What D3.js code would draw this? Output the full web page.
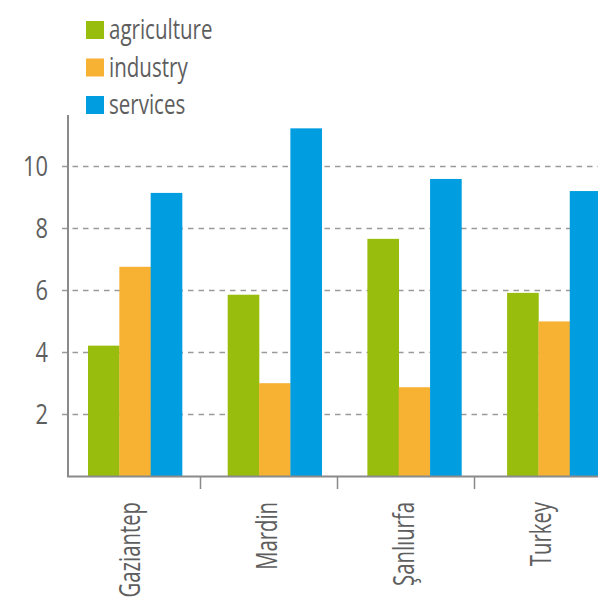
<!DOCTYPE html>
<html>
<head>
<meta charset="utf-8">
<script src="https://cdn.jsdelivr.net/npm/d3@7"></script>
<style>
  html, body { margin: 0; padding: 0; background: #fff; }
  svg { display: block; }
  text { font-family: "Open Sans", sans-serif; fill: #5e5e5e; }
</style>
</head>
<body>
<svg id="chart" width="598" height="601"></svg>
<script>
const categories = ["Gaziantep", "Mardin", "Şanlıurfa", "Turkey"];
const seriesNames = ["agriculture", "industry", "services"];
const agriculture = [4.2, 5.84, 7.64, 5.9];
const industry = [6.74, 2.99, 2.86, 4.98];
const services = [9.12, 11.2, 9.57, 9.18];
const yTicks = [2, 4, 6, 8, 10];
const colors = ["#99bd0d", "#f7b234", "#009ee0"];

const seriesValues = [agriculture, industry, services];
const rows = categories.map((c, i) => ({
  category: c,
  values: seriesNames.map((s, j) => ({ key: s, value: seriesValues[j][i] }))
}));

const svg = d3.select("#chart");
const W = 598, H = 601;

const y = d3.scaleLinear().domain([0, 11.63]).range([476, 115]);
// group positions for bars
const xGroup = d3.scaleBand().domain(categories)
  .range([88, 601.1]).paddingInner(0.327).paddingOuter(0);
const xSeries = d3.scaleBand().domain(seriesNames).range([0, xGroup.bandwidth()]);
// axis bands (tick boundaries / labels)
const xAxisScale = d3.scaleBand().domain(categories).range([63, 611]);
const color = d3.scaleOrdinal().domain(seriesNames).range(colors);

function compress(sel, factor) {
  sel.each(function() {
    const len = this.getComputedTextLength();
    d3.select(this).attr("textLength", len * factor).attr("lengthAdjust", "spacingAndGlyphs");
  });
}

// gridlines
svg.append("g").selectAll("line").data(yTicks).join("line")
  .attr("x1", 62).attr("x2", W)
  .attr("y1", d => Math.round(y(d)) + 0.5).attr("y2", d => Math.round(y(d)) + 0.5)
  .attr("stroke", "#9a9a9a").attr("stroke-width", 1.5)
  .attr("stroke-dasharray", "5.5,5");

// bars
const groups = svg.append("g").selectAll("g").data(rows).join("g")
  .attr("transform", d => `translate(${xGroup(d.category)},0)`);
groups.selectAll("rect").data(d => d.values).join("rect")
  .attr("x", d => xSeries(d.key))
  .attr("width", xSeries.bandwidth() + 0.3)
  .attr("y", d => y(d.value))
  .attr("height", d => y(0) - y(d.value))
  .attr("fill", d => color(d.key));

// y axis line
svg.append("line").attr("x1", 68).attr("x2", 68).attr("y1", 115).attr("y2", y(0) + 1)
  .attr("stroke", "#8a8a8a").attr("stroke-width", 2);
// x axis line
svg.append("line").attr("x1", 67).attr("x2", W).attr("y1", y(0) + 0.5).attr("y2", y(0) + 0.5)
  .attr("stroke", "#8a8a8a").attr("stroke-width", 2);

// y tick labels
const yl = svg.append("g").selectAll("text").data(yTicks).join("text")
  .attr("x", 48).attr("y", d => y(d)).attr("dy", "0.36em")
  .attr("text-anchor", "end").attr("font-size", 28)
  .text(d => d);
compress(yl, 0.78);

// x ticks between categories
svg.append("g").selectAll("line").data(categories.slice(1)).join("line")
  .attr("x1", d => Math.round(xAxisScale(d)) + 0.5).attr("x2", d => Math.round(xAxisScale(d)) + 0.5)
  .attr("y1", y(0)).attr("y2", y(0) + 13)
  .attr("stroke", "#8a8a8a").attr("stroke-width", 1.5);

// x labels
const xl = svg.append("g").selectAll("text").data(categories).join("text")
  .attr("transform", d => `translate(${xAxisScale(d) + xAxisScale.bandwidth() / 2},502) rotate(-90)`)
  .attr("text-anchor", "end").attr("dy", "0.3em")
  .attr("font-size", 29)
  .text(d => d);
compress(xl, 0.7);

// legend
const leg = svg.append("g").selectAll("g").data(seriesNames).join("g")
  .attr("transform", (d, i) => `translate(86,${21 + i * 37.5})`);
leg.append("rect").attr("width", 18).attr("height", 18).attr("fill", d => color(d));
const lt = leg.append("text").attr("x", 23).attr("y", 18).attr("font-size", 27).text(d => d);
compress(lt, 0.76);
</script>
</body>
</html>
